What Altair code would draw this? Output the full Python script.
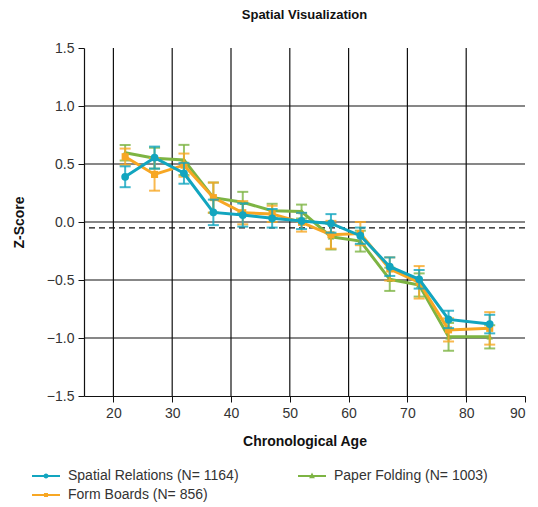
import altair as alt
import pandas as pd

ages = [22, 27, 32, 37, 42, 47, 52, 57, 62, 67, 72, 77, 84]
series_names = ["Spatial Relations (N= 1164)", "Paper Folding (N= 1003)", "Form Boards (N= 856)"]
colors = ["#12a5bf", "#7db443", "#f7a724"]

spatial = [0.39, 0.555, 0.42, 0.083, 0.06, 0.032, 0.009, -0.012, -0.118, -0.385, -0.494, -0.84, -0.88]
spatial_err = [0.09, 0.095, 0.09, 0.11, 0.1, 0.08, 0.07, 0.08, 0.07, 0.08, 0.08, 0.075, 0.08]
folding = [0.597, 0.55, 0.535, 0.21, 0.17, 0.097, 0.09, -0.127, -0.165, -0.494, -0.543, -0.99, -0.99]
folding_err = [0.067, 0.09, 0.13, 0.13, 0.09, 0.06, 0.06, 0.11, 0.09, 0.1, 0.1, 0.12, 0.1]
form = [0.563, 0.41, 0.49, 0.21, 0.08, 0.07, -0.003, -0.11, -0.1, -0.405, -0.52, -0.93, -0.917]
form_err = [0.07, 0.14, 0.1, 0.13, 0.1, 0.07, 0.08, 0.12, 0.1, 0.1, 0.14, 0.1, 0.14]

grid_y = [1.0, 0.5, 0.0, -0.5, -1.0]
grid_x = [20, 30, 40, 50, 60, 70, 80]
ref_y = [-0.05]
y_ticks = [-1.5, -1.0, -0.5, 0.0, 0.5, 1.0, 1.5]
x_ticks = [20, 30, 40, 50, 60, 70, 80, 90]

FONT = "Liberation Sans"

rows = []
for name, vals, errs in [(series_names[0], spatial, spatial_err),
                         (series_names[1], folding, folding_err),
                         (series_names[2], form, form_err)]:
    for a, v, e in zip(ages, vals, errs):
        rows.append({"series": name, "age": a, "z": v, "lo": v - e, "hi": v + e})
df = pd.DataFrame(rows)

xs = alt.Scale(domain=[15, 90], nice=False, zero=False)
ys = alt.Scale(domain=[-1.5, 1.5], nice=False, zero=False)

x_enc = alt.X("age:Q", scale=xs, axis=alt.Axis(
    values=x_ticks, grid=False, domainColor="#111", domainWidth=1.2, tickColor="#111", tickSize=6,
    labelFontSize=14, labelFont=FONT, labelColor="#333", labelPadding=4,
    title="Chronological Age", titleFontSize=14, titleFont=FONT, titleFontWeight="bold",
    titleColor="#111", titlePadding=14))
y_enc = alt.Y("z:Q", scale=ys, axis=alt.Axis(
    values=y_ticks, format=".1f", grid=False, domainColor="#111", domainWidth=1.2, tickColor="#111",
    tickSize=6, labelFontSize=14, labelFont=FONT, labelColor="#333", labelPadding=4,
    title="Z-Score", titleFontSize=14, titleFont=FONT, titleFontWeight="bold",
    titleColor="#111", titlePadding=20))

hgrid = alt.Chart(pd.DataFrame({"g": grid_y})).mark_rule(color="#111", strokeWidth=1.2).encode(
    y=alt.Y("g:Q", scale=ys))
vgrid = alt.Chart(pd.DataFrame({"g": grid_x})).mark_rule(color="#111", strokeWidth=1.2).encode(
    x=alt.X("g:Q", scale=xs))
ref = alt.Chart(pd.DataFrame({"g": ref_y})).mark_rule(color="#111", strokeWidth=1.2, strokeDash=[6, 4]).encode(
    y=alt.Y("g:Q", scale=ys))

shapes_chart = {series_names[0]: "circle", series_names[1]: "triangle-up", series_names[2]: "square"}
sizes_chart = {series_names[0]: 60, series_names[1]: 40, series_names[2]: 50}
col_of = dict(zip(series_names, colors))

layers = [hgrid, vgrid, ref]
# draw order: green, orange, teal on top
for name in [series_names[1], series_names[2], series_names[0]]:
    sub = alt.Chart(df).transform_filter(alt.datum.series == name)
    c = col_of[name]
    err = sub.mark_rule(color=c, strokeWidth=2, opacity=0.8).encode(
        x=alt.X("age:Q", scale=xs), y=alt.Y("lo:Q", scale=ys), y2="hi:Q")
    cap_lo = sub.mark_tick(color=c, orient="horizontal", size=11, thickness=2, opacity=0.8).encode(
        x=alt.X("age:Q", scale=xs), y=alt.Y("lo:Q", scale=ys))
    cap_hi = sub.mark_tick(color=c, orient="horizontal", size=11, thickness=2, opacity=0.8).encode(
        x=alt.X("age:Q", scale=xs), y=alt.Y("hi:Q", scale=ys))
    line = sub.mark_line(color=c, strokeWidth=3).encode(x=alt.X("age:Q", scale=xs), y=alt.Y("z:Q", scale=ys))
    pts = sub.mark_point(color=c, filled=True, opacity=1, shape=shapes_chart[name],
                         size=sizes_chart[name]).encode(x=alt.X("age:Q", scale=xs), y=alt.Y("z:Q", scale=ys))
    layers += [err, cap_lo, cap_hi, line, pts]

line_seg = "M-2.8,0H2.8"
circ = ("M0.3,0A0.3,0.3 0 1,1 -0.3,0A0.3,0.3 0 1,1 0.3,0Z"
        "M0.06,0A0.06,0.06 0 1,1 -0.06,0A0.06,0.06 0 1,1 0.06,0Z")
tri = "M0,-0.25L0.25,0.25H-0.25Z"
sq = "M-0.2,-0.2H0.2V0.2H-0.2Z"
legend_paths = [line_seg + circ, line_seg + tri, line_seg + sq]

leg = alt.Legend(title=None, orient="none", legendX=-45, legendY=421, columns=2, direction="horizontal",
                 symbolSize=100, symbolStrokeWidth=2, symbolOpacity=1,
                 labelOffset=15, labelFontSize=14, labelFont=FONT, labelColor="#333",
                 labelLimit=400, columnPadding=55, rowPadding=5, padding=0)
legend_layer = alt.Chart(df).mark_point(filled=False, opacity=0, strokeWidth=2).encode(
    x=alt.X("age:Q", scale=xs), y=alt.Y("z:Q", scale=ys),
    color=alt.Color("series:N", scale=alt.Scale(domain=series_names, range=colors), legend=leg),
    shape=alt.Shape("series:N", scale=alt.Scale(domain=series_names, range=legend_paths), legend=leg))

base_axes = alt.Chart(df).mark_point(opacity=0).encode(x=x_enc, y=y_enc)

chart = alt.layer(base_axes, *layers, legend_layer).properties(
    width=441, height=348,
    title=alt.Title("Spatial Visualization", fontSize=13, fontWeight="bold", font=FONT, color="#111",
                    anchor="middle", frame="group", offset=19),
    autosize=alt.AutoSizeParams(type="none"),
    padding={"left": 76, "top": 40, "right": 5, "bottom": 110},
).configure_view(stroke=None)

chart.save("out.html", embed_options={"renderer": "svg", "actions": False})
